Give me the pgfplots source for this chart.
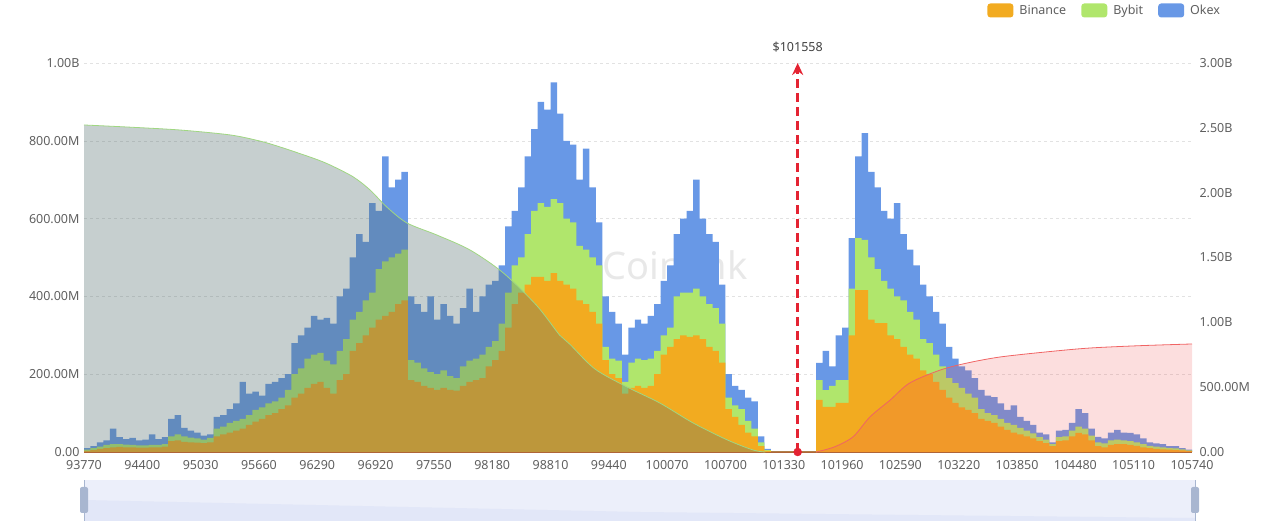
\documentclass[border=0pt]{standalone}
\usepackage{fontspec}
\setmainfont{Noto Sans}
\usepackage{pgfplots}
\usepackage{pgfplotstable}
\usetikzlibrary{arrows.meta}
\pgfplotsset{compat=1.18}

\definecolor{binance}{RGB}{242,171,32}
\definecolor{bybit}{RGB}{176,230,108}
\definecolor{okex}{RGB}{104,152,230}
\definecolor{txt}{RGB}{95,95,95}
\definecolor{gridc}{RGB}{226,226,226}
\definecolor{longfill}{RGB}{87,114,114}
\definecolor{longline}{RGB}{160,215,130}
\definecolor{shortfill}{RGB}{240,80,80}
\definecolor{shortline}{RGB}{240,100,100}
\definecolor{pricered}{RGB}{228,35,50}
\definecolor{baseline}{RGB}{175,100,55}
\definecolor{slider}{RGB}{236,239,250}
\definecolor{shadow}{RGB}{226,231,248}
\definecolor{handle}{RGB}{168,182,208}

% o = Binance top, g = Binance+Bybit top, b = Binance+Bybit+Okex top (M USD)
\pgfplotstableread{
p o g b
93770 3 6 10
93840 5 10 15
93910 8 14 25
93980 10 18 30
94050 12 20 60
94120 13 20 38
94190 12 19 33
94260 12 18 36
94330 11 17 30
94400 11 17 32
94470 12 18 45
94540 12 18 33
94610 14 20 38
94680 28 40 85
94750 30 45 95
94820 26 40 62
94890 25 37 55
94960 24 35 50
95030 23 32 42
95100 25 36 45
95170 40 60 90
95240 45 65 95
95310 50 75 110
95380 55 80 125
95450 60 85 180
95520 70 95 150
95590 78 108 155
95660 85 115 145
95730 95 125 175
95800 100 130 180
95870 110 140 190
95940 120 160 200
96010 140 200 280
96080 150 215 300
96150 165 240 320
96220 175 250 350
96290 180 255 340
96360 165 235 345
96430 150 225 330
96500 185 260 400
96570 200 290 420
96640 260 340 500
96710 280 360 560
96780 300 390 540
96850 320 410 640
96920 340 470 620
96990 350 490 760
97060 360 500 680
97130 380 510 700
97200 390 520 720
97270 185 236 400
97340 180 230 380
97410 170 215 360
97480 165 205 400
97550 160 200 340
97620 165 210 380
97690 160 195 350
97760 158 190 330
97830 170 220 370
97900 180 235 420
97970 185 240 360
98040 190 250 400
98110 220 270 430
98180 236 285 440
98250 260 330 480
98320 320 410 580
98390 380 480 620
98460 410 500 680
98530 430 560 760
98600 450 620 830
98670 450 640 900
98740 440 630 880
98810 460 650 950
98880 440 640 870
98950 430 600 800
99020 420 590 790
99090 390 530 700
99160 380 520 780
99230 360 500 680
99300 330 480 590
99370 236 270 400
99440 200 240 360
99510 190 235 330
99580 150 180 250
99650 165 230 320
99720 170 240 340
99790 165 236 330
99860 170 240 350
99930 200 260 380
100000 250 300 440
100070 270 320 480
100140 290 400 560
100210 300 410 600
100280 296 410 620
100350 300 420 700
100420 290 400 600
100490 270 380 560
100560 260 370 540
100630 230 330 430
100700 110 140 200
100770 90 120 170
100840 70 110 160
100910 50 80 140
100980 40 60 130
101050 15 25 40
101120 3 5 8
101190 0 0 0
101610 0 0 0
101680 134 185 229
101750 116 159 260
101820 116 170 220
101890 126 185 300
101960 126 185 320
102030 300 420 550
102100 416 550 760
102170 416 545 820
102240 340 500 720
102310 331 470 680
102380 331 440 620
102450 300 420 600
102520 290 400 640
102590 270 390 560
102660 250 360 520
102730 240 340 480
102800 210 290 430
102870 200 280 400
102940 180 250 360
103010 160 220 330
103080 140 190 270
103150 126 177 240
103220 115 165 220
103290 108 150 210
103360 100 140 190
103430 85 110 160
103500 80 100 145
103570 75 95 141
103640 65 85 125
103710 57 75 108
103780 50 70 120
103850 45 62 90
103920 40 55 80
103990 35 48 70
104060 28 38 50
104130 23 32 45
104200 15 20 25
104270 28 38 55
104340 30 40 57
104410 40 55 75
104480 49 65 110
104550 45 60 100
104620 30 42 60
104690 15 25 39
104760 12 22 35
104830 18 30 50
104900 20 32 57
104970 20 30 50
105040 18 28 49
105110 16 25 45
105180 12 20 35
105250 10 16 25
105320 8 14 22
105390 7 12 20
105460 6 10 15
105530 5 9 15
105600 4 7 10
105670 2 4 6
105740 0 0 0
}\liqtable

% cumulative long liquidations (left of price), M USD
\pgfplotstableread{
p v
93770 2522
94270 2505
94810 2483
95350 2445
95670 2398
95890 2352
96250 2265
96430 2213
96680 2121
96860 2021
97040 1890
97260 1766
97580 1674
97940 1558
98300 1381
98660 1130
98910 900
99020 830
99290 640
99640 500
99990 378
100350 224
100720 93
101000 15
101130 0
}\longcum

% cumulative short liquidations (right of price), M USD
\pgfplotstableread{
p v
101680 0
101880 40
102080 118
102260 270
102480 401
102690 532
103020 632
103310 686
103670 733
104210 775
104640 802
105180 820
105740 833
}\shortcum

\pgfplotsset{
  base/.style={
    at={(84pt,74pt)}, anchor=south west,
    width=1108pt, height=389pt, scale only axis,
    xmin=93770, xmax=105740,
    scaled x ticks=false, scaled y ticks=false,
    tick style={draw=none},
    tick label style={font=\fontsize{12.5}{14}\selectfont, text=txt},
  }
}

\begin{document}
\begin{tikzpicture}[x=1pt,y=1pt]
\useasboundingbox (0,0) rectangle (1280,526);

% watermark
\node[text=black!9, font=\bfseries\fontsize{38}{40}\selectfont] at (675,261) {Coinank};

\begin{axis}[base,
  ymin=0, ymax=1000,
  axis x line*=bottom, axis y line*=left,
  x axis line style={draw=baseline, line width=1.3pt, -},
  y axis line style={draw=none},
  ytick={0,200,400,600,800,1000},
  yticklabels={0.00,200.00M,400.00M,600.00M,800.00M,1.00B},
  yticklabel style={xshift=-1pt},
  xtick={93770,94400,95030,95660,96290,96920,97550,98180,98810,99440,100070,100700,101330,101960,102590,103220,103850,104480,105110,105740},
  xticklabels={93770,94400,95030,95660,96290,96920,97550,98180,98810,99440,100070,100700,101330,101960,102590,103220,103850,104480,105110,105740},
  xticklabel style={yshift=-5pt},
  ymajorgrids, grid style={dashed, gridc},
  legend style={at={(1.03,1.16)}, anchor=north east, draw=none, fill=none,
    legend columns=-1, font=\fontsize{12.5}{14}\selectfont, text=txt,
    /tikz/every odd column/.append style={column sep=4pt},
    /tikz/every even column/.append style={column sep=13pt}},
  legend image code/.code={\fill[#1, draw=none, rounded corners=3pt] (0pt,-7pt) rectangle (26pt,7pt);},
]
\addplot[forget plot, const plot mark left, fill=okex, draw=none] table[x=p, y=b] {\liqtable} \closedcycle;
\addplot[forget plot, const plot mark left, fill=bybit, draw=none] table[x=p, y=g] {\liqtable} \closedcycle;
\addplot[forget plot, const plot mark left, fill=binance, draw=none] table[x=p, y=o] {\liqtable} \closedcycle;
\addlegendimage{fill=binance, draw=none}
\addlegendentry{Binance}
\addlegendimage{fill=bybit, draw=none}
\addlegendentry{Bybit}
\addlegendimage{fill=okex, draw=none}
\addlegendentry{Okex}
\end{axis}

\begin{axis}[base,
  ymin=0, ymax=3000,
  axis x line=none, axis y line*=right,
  y axis line style={draw=none},
  ytick={0,500,1000,1500,2000,2500,3000},
  yticklabels={0.00,500.00M,1.00B,1.50B,2.00B,2.50B,3.00B},
  yticklabel style={xshift=4pt},
  clip=false,
]
\addplot[smooth, fill=longfill, fill opacity=0.34, draw=none] table[x=p, y=v] {\longcum} \closedcycle;
\addplot[smooth, longline, line width=0.8pt] table[x=p, y=v] {\longcum};
\addplot[smooth, fill=shortfill, fill opacity=0.19, draw=none] table[x=p, y=v] {\shortcum} \closedcycle;
\addplot[smooth, shortline, line width=0.8pt] table[x=p, y=v] {\shortcum};
\addplot[pricered, line width=2.6pt, dash pattern=on 9pt off 5pt, -{Stealth[length=12pt, width=11pt]}]
  coordinates {(101480,0) (101480,3000)}
  node[pos=1, above=6pt, text=black!75, font=\fontsize{12.5}{14}\selectfont] {\$101558};
\addplot[only marks, mark=*, mark size=4pt, pricered] coordinates {(101480,0)};
\end{axis}

% zoom slider
\fill[slider] (84,5) rectangle (1195,46);
\fill[shadow] (84,5) -- (84,26) -- (640,14) -- (1195,8) -- (1195,5) -- cycle;
\draw[handle, line width=1pt] (84,5) -- (84,46);
\draw[handle, line width=1pt] (1195,5) -- (1195,46);
\fill[handle, rounded corners=2pt] (80,13) rectangle (88,39);
\fill[handle, rounded corners=2pt] (1191,13) rectangle (1199,39);
\end{tikzpicture}
\end{document}
